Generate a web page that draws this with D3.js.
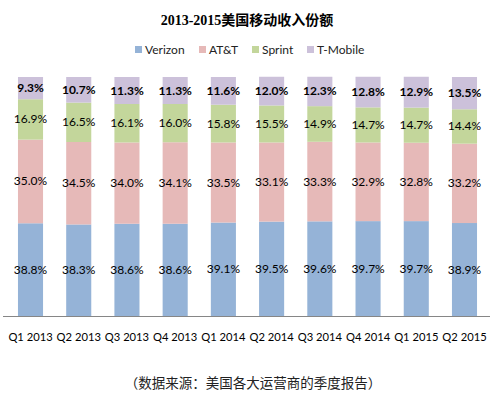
<!DOCTYPE html>
<html>
<head>
<meta charset="utf-8">
<script src="https://cdn.jsdelivr.net/npm/d3@7"></script>
<style>
  body { margin: 0; background: #fff; }
  svg { display: block; }
</style>
</head>
<body>
<svg id="canvas" width="498" height="397"></svg>
<script>
var quarters = ["Q1 2013", "Q2 2013", "Q3 2013", "Q4 2013", "Q1 2014", "Q2 2014", "Q3 2014", "Q4 2014", "Q1 2015", "Q2 2015"];
var carriers = ["Verizon", "AT&T", "Sprint", "T-Mobile"];
var verizon = [38.8, 38.3, 38.6, 38.6, 39.1, 39.5, 39.6, 39.7, 39.7, 38.9];
var att     = [35.0, 34.5, 34.0, 34.1, 33.5, 33.1, 33.3, 32.9, 32.8, 33.2];
var sprint  = [16.9, 16.5, 16.1, 16.0, 15.8, 15.5, 14.9, 14.7, 14.7, 14.4];
var tmobile = [9.3, 10.7, 11.3, 11.3, 11.6, 12.0, 12.3, 12.8, 12.9, 13.5];
var colors  = ["#95b3d7", "#e6b9b8", "#c3d69b", "#ccc1da"];

// rows for d3.stack
var rows = quarters.map(function (q, i) {
    return { q: q, "Verizon": verizon[i], "AT&T": att[i], "Sprint": sprint[i], "T-Mobile": tmobile[i] };
});

var svg = d3.select("#canvas");
var font = "Lato, 'Noto Sans CJK SC', sans-serif";

let x = d3.scaleBand()
    .domain(quarters)
    .range([6.4, 488.6])
    .paddingInner(0.48)
    .paddingOuter(0.24);

let y = d3.scaleLinear()
    .domain([0, 100])
    .range([316, 77]);

let color = d3.scaleOrdinal().domain(carriers).range(colors);

let series = d3.stack().keys(carriers)(rows);

// title
svg.append("text")
    .attr("x", 247).attr("y", 25)
    .attr("text-anchor", "middle")
    .style("font", "bold 14px 'Liberation Serif', 'Noto Sans CJK SC', serif")
    .text("2013-2015美国移动收入份额");

// legend
var legendX = [135, 199, 252, 307];
let legend = svg.selectAll("g.legend")
    .data(carriers)
    .enter()
    .append("g")
    .attr("class", "legend")
    .attr("transform", (d, i) => "translate(" + legendX[i] + ",50)");
legend.append("rect")
    .attr("x", 0).attr("y", -4)
    .attr("width", 7).attr("height", 7)
    .attr("fill", d => color(d));
legend.append("text")
    .attr("x", 10).attr("y", 4)
    .style("font", "12px " + font)
    .attr("fill", "#222")
    .text(d => d);

// bars
let groups = svg.selectAll("g.series")
    .data(series)
    .enter()
    .append("g")
    .attr("class", "series")
    .attr("fill", d => color(d.key));

groups.selectAll("rect")
    .data(d => d)
    .enter()
    .append("rect")
    .attr("x", d => x(d.data.q))
    .attr("y", d => y(d[1]))
    .attr("width", x.bandwidth())
    .attr("height", d => y(d[0]) - y(d[1]));

// value labels
series.forEach(function (s) {
    svg.append("g")
        .selectAll("text")
        .data(s)
        .enter()
        .append("text")
        .attr("x", d => x(d.data.q) + x.bandwidth() / 2)
        .attr("y", d => (y(d[0]) + y(d[1])) / 2 + 4)
        .attr("text-anchor", "middle")
        .style("font", (s.key === "T-Mobile" ? "bold " : "") + "12px " + font)
        .attr("fill", "#000")
        .text(d => d.data[s.key].toFixed(1) + "%");
});

// x axis
let xAxis = d3.axisBottom(x).tickSize(0).tickPadding(17);
let axisG = svg.append("g")
    .attr("transform", "translate(0,316)")
    .call(xAxis);
axisG.select(".domain")
    .attr("d", "M3,0.5H490")
    .attr("stroke", "#868686");
axisG.selectAll("text")
    .style("font", "11.2px " + font)
    .attr("fill", "#000");

// source note
svg.append("text")
    .attr("x", 253).attr("y", 388)
    .attr("text-anchor", "middle")
    .style("font", "13.5px 'Noto Sans CJK SC', sans-serif")
    .attr("fill", "#222")
    .text("（数据来源：美国各大运营商的季度报告）");
</script>
</body>
</html>
